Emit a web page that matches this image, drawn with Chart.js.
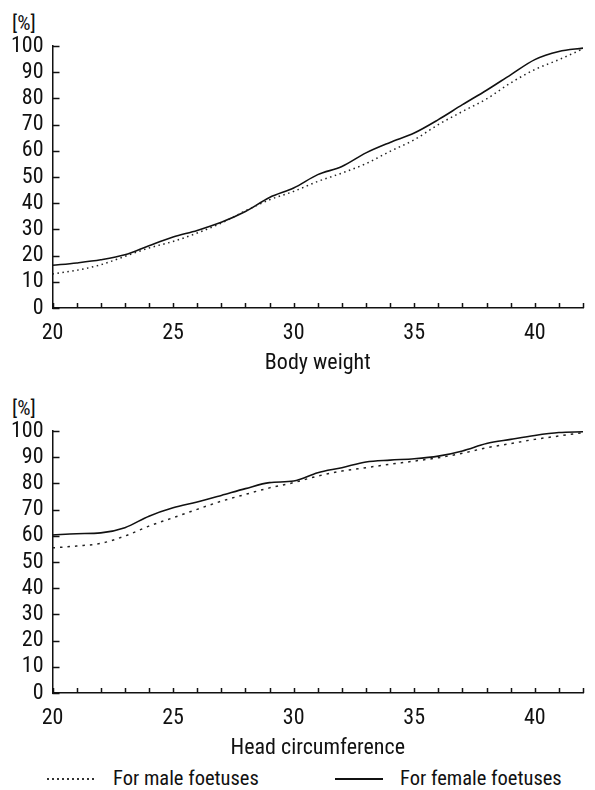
<!DOCTYPE html>
<html>
<head>
<meta charset="utf-8">
<script src="https://cdn.jsdelivr.net/npm/chart.js@4.4.1/dist/chart.umd.min.js"></script>
<style>
  body { margin: 0; width: 595px; height: 790px; background: #fff; position: relative; overflow: hidden;
         font-family: "Liberation Sans Narrow", "Roboto Condensed", Roboto, sans-serif; color: #111; }
  .box { position: absolute; left: 0; width: 595px; height: 380px; }
  .unit { position: absolute; left: 12px; font-size: 21px; line-height: 1; }
  .legend { position: absolute; top: 766px; font-size: 20.5px; line-height: 24px; white-space: nowrap; }
  .swatch { position: absolute; top: 778px; height: 1.5px; }
</style>
</head>
<body>
<div class="unit" style="top:13px">[%]</div>
<div class="box" style="top:0"><canvas id="weight"></canvas></div>
<div class="unit" style="top:398px">[%]</div>
<div class="box" style="top:385px"><canvas id="head"></canvas></div>

<div class="swatch" style="left:47px;width:50px;background:repeating-linear-gradient(90deg,#333 0 1.5px,transparent 1.5px 5px)"></div>
<div class="legend" style="left:113px">For male foetuses</div>
<div class="swatch" style="left:335px;width:48px;background:#111"></div>
<div class="legend" style="left:400px">For female foetuses</div>

<script>
// gestational week on the x axis
const weeks = [20, 21, 22, 23, 24, 25, 26, 27, 28, 29, 30, 31, 32, 33, 34, 35, 36, 37, 38, 39, 40, 41, 42];

// body weight [%]
const weightMale   = [13.0, 14.4, 16.5, 19.7, 22.9, 25.4, 28.6, 32.4, 37.1, 41.3, 44.5, 48.3, 51.5, 55.1, 59.8, 64.2, 70.0, 75.0, 79.8, 85.9, 91.0, 94.8, 98.9];
const weightFemale = [16.3, 17.2, 18.4, 20.3, 23.8, 27.1, 29.6, 32.7, 36.8, 42.2, 45.8, 50.9, 54.0, 59.2, 63.2, 66.8, 71.9, 77.6, 83.1, 89.0, 94.8, 97.9, 99.2];

// head circumference [%]
const headMale   = [55.4, 56.1, 57.1, 59.9, 63.7, 66.9, 70.1, 73.2, 75.8, 78.3, 80.3, 82.8, 84.7, 86.0, 87.3, 88.5, 89.8, 91.5, 93.6, 95.2, 96.8, 98.1, 99.4];
const headFemale = [60.3, 60.8, 61.1, 63.1, 67.5, 70.7, 72.9, 75.4, 78.0, 80.3, 80.9, 84.1, 86.0, 88.2, 88.9, 89.4, 90.4, 92.4, 95.2, 96.8, 98.3, 99.4, 99.7];

const xLabels = [20, 25, 30, 35, 40];
const yTicks = [0, 10, 20, 30, 40, 50, 60, 70, 80, 90, 100];

Chart.defaults.font.family = '"Liberation Sans Narrow", "Roboto Condensed", Roboto, sans-serif';
Chart.defaults.color = "#111";

// tick marks pointing into the plot
const innerTicks = {
  id: "innerTicks",
  afterDraw(chart) {
    const { ctx, scales: { x, y } } = chart;
    ctx.save();
    ctx.strokeStyle = "#111";
    ctx.lineWidth = 1.5;
    ctx.beginPath();
    x.ticks.forEach((t) => {
      const px = Math.round(x.getPixelForValue(t.value)) + 0.5;
      ctx.moveTo(px, y.bottom);
      ctx.lineTo(px, y.bottom - 5);
    });
    y.ticks.forEach((t) => {
      const py = Math.round(y.getPixelForValue(t.value)) + 0.5;
      ctx.moveTo(x.left, py);
      ctx.lineTo(x.left + 7, py);
    });
    ctx.stroke();
    ctx.restore();
  },
};

function makeChart(id, title, male, female, maleDash) {
  const pts = (arr) => weeks.map((w, i) => ({ x: w, y: arr[i] }));
  return new Chart(document.getElementById(id), {
    type: "line",
    data: {
      datasets: [
        {
          label: "For male foetuses",
          data: pts(male),
          borderColor: "#222",
          borderWidth: 1.5,
          borderDash: maleDash,
          pointRadius: 0,
          cubicInterpolationMode: "monotone",
        },
        {
          label: "For female foetuses",
          data: pts(female),
          borderColor: "#111",
          borderWidth: 1.6,
          pointRadius: 0,
          cubicInterpolationMode: "monotone",
        },
      ],
    },
    options: {
      responsive: true,
      maintainAspectRatio: false,
      animation: false,
      layout: { padding: { top: 46, right: 5.5, left: 0, bottom: 3 } },
      plugins: { legend: { display: false }, tooltip: { enabled: false } },
      scales: {
        x: {
          type: "linear",
          min: 20,
          max: 42,
          grid: { display: false, drawTicks: false },
          border: { display: true, color: "#111", width: 1.5 },
          ticks: {
            stepSize: 1,
            autoSkip: false,
            maxRotation: 0,
            padding: 12,
            font: { size: 22 },
            callback: (v) => (xLabels.includes(v) ? String(v) : ""),
          },
          title: { display: true, text: title, font: { size: 22 }, padding: { top: 4, bottom: 0 } },
          afterFit: (s) => { s.height = 69; },
        },
        y: {
          min: 0,
          max: 100,
          grid: { display: false, drawTicks: false },
          border: { display: true, color: "#111", width: 1.5 },
          afterBuildTicks: (s) => { s.ticks = yTicks.map((v) => ({ value: v })); },
          ticks: { padding: 9, autoSkip: false, font: { size: 22 } },
          afterFit: (s) => { s.width = 52.5; },
        },
      },
    },
    plugins: [innerTicks],
  });
}

makeChart("weight", "Body weight", weightMale, weightFemale, [1.5, 3.5]);
makeChart("head", "Head circumference", headMale, headFemale, [2.5, 5]);
</script>
</body>
</html>
